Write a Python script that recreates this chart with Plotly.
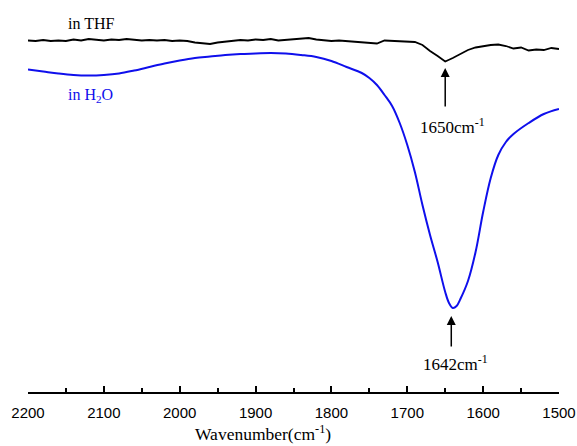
import plotly.graph_objects as go

# Wavenumber (cm^-1) and transmittance (a.u.)
thf_wn = [2200, 2190, 2180, 2170, 2160, 2150, 2140, 2130, 2120, 2110, 2100, 2090, 2080, 2070,
          2060, 2050, 2040, 2030, 2020, 2010, 2000, 1990, 1980, 1970, 1960, 1950, 1940, 1930,
          1920, 1910, 1900, 1890, 1880, 1870, 1860, 1850, 1840, 1830, 1820, 1810, 1800, 1790,
          1780, 1770, 1760, 1750, 1740, 1730, 1720, 1710, 1700, 1690, 1680, 1670, 1660, 1650,
          1640, 1630, 1620, 1610, 1600, 1590, 1580, 1570, 1560, 1550, 1540, 1530, 1520, 1510, 1500]
thf_px = [40.5, 41, 40, 41, 40.5, 41, 39.5, 40.5, 39, 40, 40.5, 39.5, 40, 39,
          40, 40.5, 40, 40.5, 40, 41, 40.5, 41, 42.5, 43.5, 44, 42.5, 41.5, 41,
          40, 40.5, 39.5, 40, 39, 40.5, 40, 39.5, 38.5, 38, 39.5, 40, 41, 40.5,
          41, 41.5, 42, 42.5, 43.5, 40.5, 41, 41.5, 42, 42, 45, 51, 56, 61.5,
          58, 54, 50, 47.5, 46, 45, 44.5, 46, 48.5, 47.5, 50.5, 49.5, 50, 48, 49]
thf_t = [391 - v for v in thf_px]

h2o_wn = [2200, 2180, 2160, 2140, 2120, 2100, 2080, 2060, 2040, 2020, 2000, 1980, 1960, 1940,
          1920, 1900, 1880, 1860, 1840, 1820, 1800, 1780, 1760, 1750, 1740, 1730, 1720, 1710,
          1700, 1690, 1680, 1670, 1660, 1650, 1645, 1640, 1635, 1630, 1620, 1610, 1600, 1590,
          1580, 1570, 1560, 1540, 1520, 1500]
h2o_px = [69.5, 71.5, 73.5, 75, 75.5, 75, 73.5, 70.5, 67, 63.5, 60.5, 58, 56.5, 55,
          54, 53.5, 53, 53.5, 55, 57, 61, 67, 73, 78, 85, 95, 106, 123,
          145, 172, 205, 235, 262, 292, 303, 308, 306, 299, 281, 252, 212, 178,
          155, 142, 134, 123, 114, 109]
h2o_t = [391 - v for v in h2o_px]

tick_vals = [2200, 2100, 2000, 1900, 1800, 1700, 1600, 1500]
tick_text = ["2200", "2100", "2000", "1900", "1800", "1700", "1600", "1500"]

serif = "Liberation Serif, Times New Roman, serif"
sans = "Liberation Sans, Arial, sans-serif"
blue = "#0f0fec"

fig = go.Figure()
fig.add_trace(go.Scatter(x=thf_wn, y=thf_t, mode="lines",
                         line=dict(color="black", width=1.8), showlegend=False))
fig.add_trace(go.Scatter(x=h2o_wn, y=h2o_t, mode="lines", line_shape="spline",
                         line=dict(color=blue, width=2), showlegend=False))

fig.add_annotation(x=2117, y=368, text="in THF", showarrow=False,
                   font=dict(family=serif, size=16, color="black"))
fig.add_annotation(x=2117, y=296, text="in H<sub>2</sub>O", showarrow=False,
                   font=dict(family=serif, size=16, color=blue))
fig.add_annotation(x=1641, y=265, text="1650cm<sup>-1</sup>", showarrow=False,
                   font=dict(family=serif, size=17, color="black"))
fig.add_annotation(x=1637, y=28, text="1642cm<sup>-1</sup>", showarrow=False,
                   font=dict(family=serif, size=17, color="black"))
# arrows
fig.add_annotation(x=1650, y=391 - 68, ax=1650, ay=391 - 108, axref="x", ayref="y",
                   xref="x", yref="y", text="", showarrow=True, arrowhead=2,
                   arrowsize=1.2, arrowwidth=1.5, arrowcolor="black")
fig.add_annotation(x=1642, y=391 - 316, ax=1642, ay=391 - 348, axref="x", ayref="y",
                   xref="x", yref="y", text="", showarrow=True, arrowhead=2,
                   arrowsize=1.2, arrowwidth=1.5, arrowcolor="black")
# axis title (placed left of centre as in the reference)
fig.add_annotation(x=0.4426, y=-0.108, xref="paper", yref="paper",
                   text="Wavenumber(cm<sup>-1</sup>)", showarrow=False,
                   xanchor="center", yanchor="middle",
                   font=dict(family=serif, size=17.5, color="black"))

fig.update_layout(
    width=577, height=446,
    margin=dict(l=28, r=18, t=10, b=54, autoexpand=False),
    paper_bgcolor="white", plot_bgcolor="white",
    xaxis=dict(range=[2200, 1500], tickvals=tick_vals, ticktext=tick_text,
               automargin=False,
               showline=True, linecolor="black", linewidth=1.5,
               ticks="inside", ticklen=6, tickwidth=1.5, tickcolor="black",
               minor=dict(ticks="inside", ticklen=4, tickwidth=1.5, tickcolor="black",
                          dtick=50, tick0=1500),
               showgrid=False, zeroline=False, ticklabelstandoff=6,
               tickfont=dict(family=sans, size=15, color="black")),
    yaxis=dict(range=[-1, 381], visible=False),
)

fig.write_html("out.html")
